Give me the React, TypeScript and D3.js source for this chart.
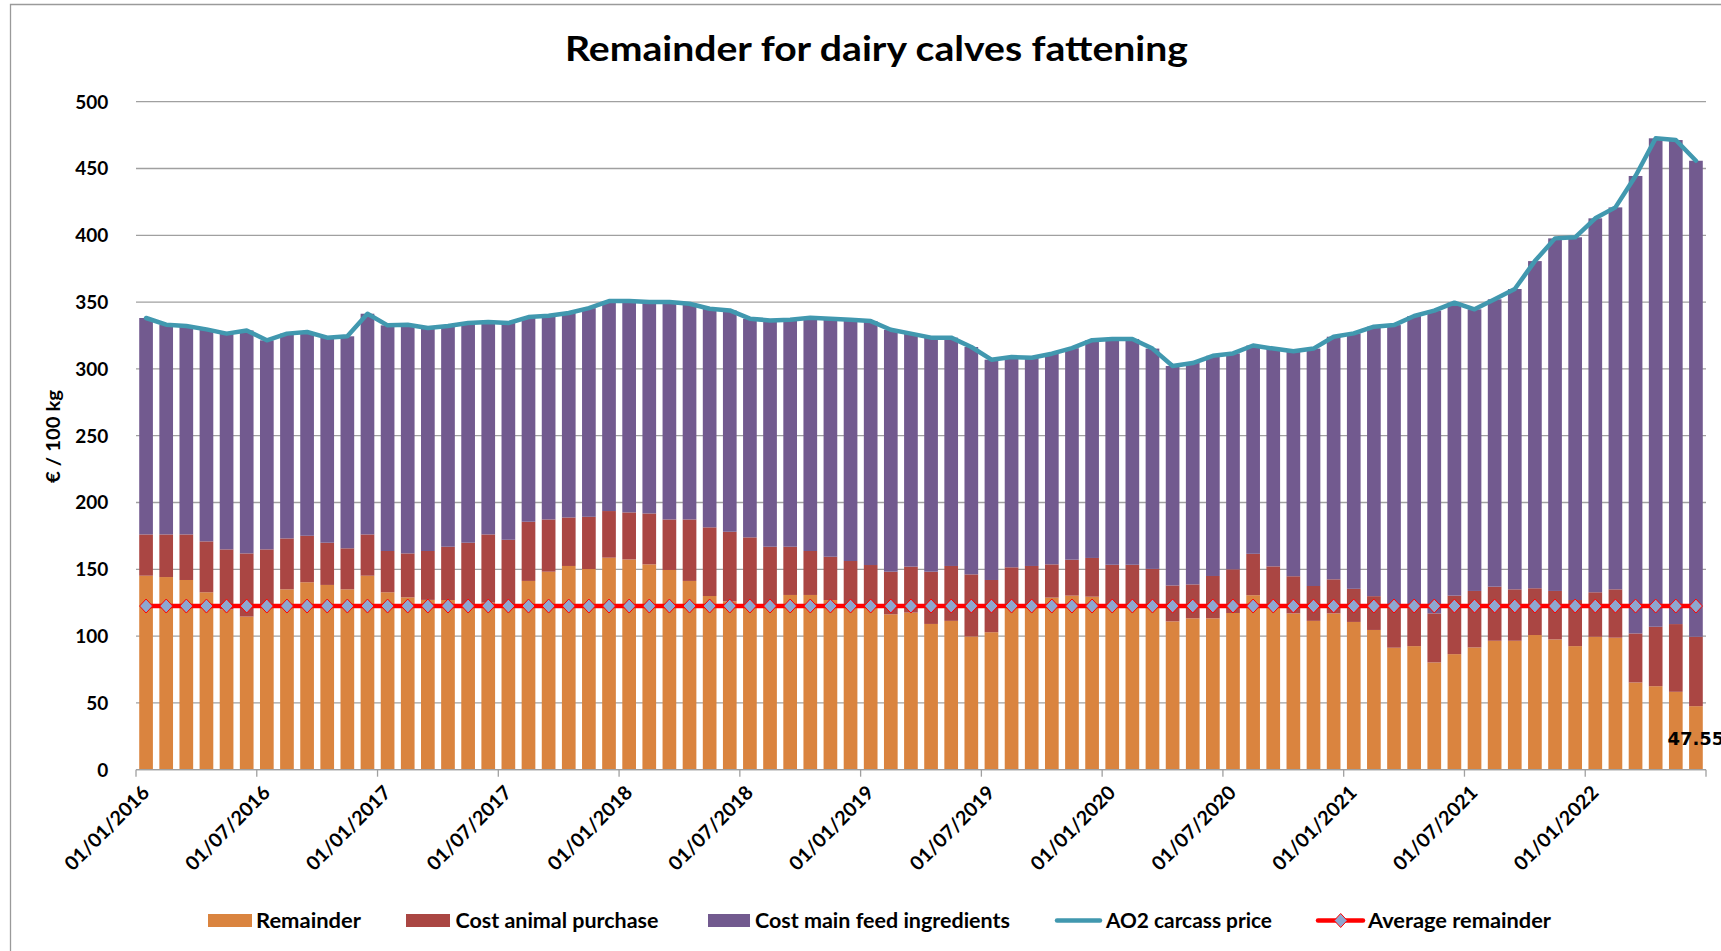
import React from "react";
import * as d3 from "d3";

// ---- data (monthly, Jan 2016 – Jun 2022) ----
const tickLabels = [
  "01/01/2016", "01/07/2016", "01/01/2017", "01/07/2017", "01/01/2018", "01/07/2018",
  "01/01/2019", "01/07/2019", "01/01/2020", "01/07/2020", "01/01/2021", "01/07/2021", "01/01/2022",
];

const remainder = [
  145.2, 144.2, 142.0, 132.8, 120.0, 114.6, 124.0, 135.0, 140.3, 138.3, 135.0, 145.2,
  132.8, 129.0, 127.1, 127.0, 124.0, 125.0, 122.0, 141.3, 148.2, 152.5, 150.2, 158.7,
  157.4, 153.7, 149.5, 141.3, 130.0, 126.0, 123.0, 122.0, 130.8, 130.8, 127.0, 124.0,
  122.0, 116.3, 117.6, 109.1, 111.4, 99.7, 102.9, 122.0, 123.0, 128.8, 130.3, 129.5,
  124.0, 124.0, 122.8, 111.0, 113.3, 113.3, 117.3, 130.6, 121.0, 117.0, 111.4, 117.0,
  110.6, 104.6, 91.3, 92.5, 80.3, 86.5, 91.5, 96.5, 96.5, 100.8, 97.5, 92.5,
  99.5, 98.8, 65.3, 62.5, 58.3, 47.55,
];

const animalPurchase = [
  30.9, 31.9, 34.1, 38.1, 44.9, 47.3, 40.9, 38.1, 34.8, 31.6, 30.7, 30.9,
  30.9, 32.9, 36.6, 39.9, 45.9, 51.1, 50.1, 44.3, 39.1, 36.3, 39.1, 34.9,
  35.2, 38.1, 37.8, 46.0, 51.4, 52.1, 50.9, 44.9, 36.1, 32.9, 32.4, 32.2,
  31.2, 31.9, 34.4, 39.1, 41.1, 46.5, 39.1, 29.5, 29.5, 24.9, 26.9, 29.0,
  29.4, 29.4, 27.5, 26.9, 25.4, 31.7, 32.7, 31.0, 31.2, 27.8, 26.1, 25.5,
  24.8, 25.3, 32.7, 28.5, 36.7, 43.8, 42.3, 40.5, 38.5, 35.0, 36.3, 34.5,
  33.3, 36.2, 36.7, 44.5, 50.7, 51.95,
];

const feedCost = [
  162.0, 157.0, 156.0, 158.7, 161.5, 166.9, 156.5, 153.3, 152.5, 153.5, 158.7, 165.2,
  168.9, 171.2, 166.9, 165.2, 164.4, 159.0, 162.2, 153.2, 152.5, 153.0, 156.2, 157.2,
  158.2, 158.2, 162.7, 161.5, 163.6, 165.7, 163.7, 169.4, 169.9, 174.6, 178.2, 180.6,
  182.6, 181.1, 174.4, 175.2, 170.9, 170.2, 164.9, 157.4, 155.9, 157.7, 158.3, 163.0,
  169.0, 169.0, 164.9, 164.3, 165.7, 164.8, 161.6, 155.9, 163.0, 168.4, 177.7, 181.6,
  191.2, 201.7, 208.8, 218.6, 226.6, 219.3, 210.8, 215.1, 224.8, 244.9, 263.9, 271.5,
  279.9, 285.9, 342.4, 365.6, 362.3, 356.3,
];

const carcassPrice = [
  338.1, 333.1, 332.1, 329.6, 326.4, 328.8, 321.4, 326.4, 327.6, 323.4, 324.4, 341.3,
  332.6, 333.1, 330.6, 332.1, 334.3, 335.1, 334.3, 338.8, 339.8, 341.8, 345.5, 350.8,
  350.8, 350.0, 350.0, 348.8, 345.0, 343.8, 337.6, 336.3, 336.8, 338.3, 337.6, 336.8,
  335.8, 329.3, 326.4, 323.4, 323.4, 316.4, 306.9, 308.9, 308.4, 311.4, 315.5, 321.5,
  322.4, 322.4, 315.2, 302.2, 304.4, 309.8, 311.6, 317.5, 315.2, 313.2, 315.2, 324.1,
  326.6, 331.6, 332.8, 339.6, 343.6, 349.6, 344.6, 352.1, 359.8, 380.7, 397.7, 398.5,
  412.7, 420.9, 444.4, 472.6, 471.3, 455.8,
];

const averageRemainder = 122.5;
const yTicks = [0, 50, 100, 150, 200, 250, 300, 350, 400, 450, 500];
const seriesNames = ["Remainder", "Cost animal purchase", "Cost main feed ingredients"];
const lineNames = ["AO2 carcass price", "Average remainder"];
const title = "Remainder for dairy calves fattening";
const yTitle = "€ / 100 kg";

// ---- styles ----
const COLORS = ["#DA843F", "#AA4643", "#725A8F"];
const LINE_COLOR = "#4198AF";
const AVG_COLOR = "#FF0000";
const DIAMOND_FILL = "#8EA7D0";
const GRID = "#A0A0A0";
const FONT = "Lato, 'Liberation Sans', Arial, sans-serif";

const W = 1721;
const H = 951;
const X0 = 136;
const X1 = 1706;
const Y0 = 769.7;
const Y500 = 101.7;

export default function App() {
  const n = remainder.length;
  const idx = d3.range(n);
  const x = d3
    .scaleBand<number>()
    .domain(idx)
    .range([X0, X1])
    .paddingInner(0.32)
    .paddingOuter(0.16);
  const bw = x.bandwidth();
  const step = x.step();
  const cx = (i: number) => (x(i) as number) + bw / 2;
  const y = d3.scaleLinear().domain([0, 500]).range([Y0, Y500]);

  const rows = idx.map((i) => ({ a: remainder[i], b: animalPurchase[i], c: feedCost[i] }));
  const stacked = d3.stack<any>().keys(["a", "b", "c"])(rows);

  const priceLine = d3
    .line<number>()
    .x((i) => cx(i))
    .y((i) => y(carcassPrice[i]))(idx) as string;

  const avgY = y(averageRemainder);
  const diamond = (px: number, py: number) =>
    `M${px},${py - 7} L${px + 6.5},${py} L${px},${py + 7} L${px - 6.5},${py} Z`;

  const ticksX = d3.range(0, 14).map((k) => X0 + k * 6 * step);

  const legendY = 920.5;
  const legendBase = 927.5;

  return (
    <svg
      width={W}
      height={H}
      style={{ position: "absolute", left: 0, top: 0, overflow: "hidden", background: "#fff" }}
      fontFamily={FONT}
    >
      <rect x={0} y={0} width={W} height={H} fill="#fff" />
      {/* chart frame */}
      <path d={`M10.5,${H + 2} V4.5 H${W + 2}`} fill="none" stroke="#9a9a9a" strokeWidth={1.3} />

      {/* title */}
      <text x={565} y={60.7} fontSize={34} fontWeight={700} textLength={623} lengthAdjust="spacingAndGlyphs">
        {title}
      </text>

      {/* grid lines + y labels */}
      {yTicks.map((t) => (
        <g key={t}>
          <line x1={X0} x2={X1} y1={y(t)} y2={y(t)} stroke={GRID} strokeWidth={1.3} />
          <text x={108.3} y={y(t) + 6.8} textAnchor="end" fontSize={19} fontWeight={700}>
            {t}
          </text>
        </g>
      ))}

      {/* y title */}
      <text
        transform={`translate(59.5,436.5) rotate(-90)`}
        textAnchor="middle"
        fontSize={19.5}
        fontWeight={700}
        textLength={93}
        lengthAdjust="spacingAndGlyphs"
      >
        {yTitle}
      </text>

      {/* stacked bars */}
      {stacked.map((layer, li) => (
        <g key={li} fill={COLORS[li]}>
          {layer.map((d, i) => (
            <rect key={i} x={x(i)} y={y(d[1])} width={bw} height={y(d[0]) - y(d[1])} />
          ))}
        </g>
      ))}

      {/* x axis */}
      <line x1={X0} x2={X1} y1={Y0} y2={Y0} stroke={GRID} strokeWidth={1.3} />
      {ticksX.map((tx, k) => (
        <line key={k} x1={tx} x2={tx} y1={Y0} y2={Y0 + 7} stroke={GRID} strokeWidth={1.3} />
      ))}
      {tickLabels.map((lab, k) => (
        <text
          key={lab}
          transform={`translate(${ticksX[k] + 14.5},794) rotate(-45)`}
          textAnchor="end"
          fontSize={19.5}
          fontWeight={700}
          textLength={110}
          lengthAdjust="spacingAndGlyphs"
        >
          {lab}
        </text>
      ))}

      {/* carcass price line */}
      <path d={priceLine} fill="none" stroke={LINE_COLOR} strokeWidth={4.5} strokeLinejoin="round" strokeLinecap="round" />

      {/* average remainder */}
      <line x1={cx(0)} x2={cx(n - 1)} y1={avgY} y2={avgY} stroke={AVG_COLOR} strokeWidth={4.5} />
      {idx.map((i) => (
        <path key={i} d={diamond(cx(i), avgY)} fill={DIAMOND_FILL} stroke={AVG_COLOR} strokeWidth={1} />
      ))}

      {/* data label for last remainder */}
      <text
        x={cx(n - 1)}
        y={y(remainder[n - 1] / 2) + 7}
        textAnchor="middle"
        fontSize={18}
        fontWeight={700}
        fontFamily="'DejaVu Sans', sans-serif"
      >
        {remainder[n - 1].toFixed(2)}
      </text>

      {/* legend */}
      <rect x={208} y={legendY - 6.5} width={44} height={13} fill={COLORS[0]} />
      <text x={256} y={legendBase} fontSize={20} fontWeight={700} textLength={105} lengthAdjust="spacingAndGlyphs">
        {seriesNames[0]}
      </text>
      <rect x={406} y={legendY - 6.5} width={44} height={13} fill={COLORS[1]} />
      <text x={455.5} y={legendBase} fontSize={20} fontWeight={700} textLength={203} lengthAdjust="spacingAndGlyphs">
        {seriesNames[1]}
      </text>
      <rect x={708} y={legendY - 6.5} width={42} height={13} fill={COLORS[2]} />
      <text x={755} y={legendBase} fontSize={20} fontWeight={700} textLength={255} lengthAdjust="spacingAndGlyphs">
        {seriesNames[2]}
      </text>
      <line x1={1057} x2={1100} y1={legendY} y2={legendY} stroke={LINE_COLOR} strokeWidth={4.5} strokeLinecap="round" />
      <text x={1106} y={legendBase} fontSize={20} fontWeight={700} textLength={166} lengthAdjust="spacingAndGlyphs">
        {lineNames[0]}
      </text>
      <line x1={1318} x2={1363} y1={legendY} y2={legendY} stroke={AVG_COLOR} strokeWidth={4.5} strokeLinecap="round" />
      <path d={diamond(1340.7, legendY)} fill={DIAMOND_FILL} stroke={AVG_COLOR} strokeWidth={1} />
      <text x={1368} y={legendBase} fontSize={20} fontWeight={700} textLength={183} lengthAdjust="spacingAndGlyphs">
        {lineNames[1]}
      </text>
    </svg>
  );
}
